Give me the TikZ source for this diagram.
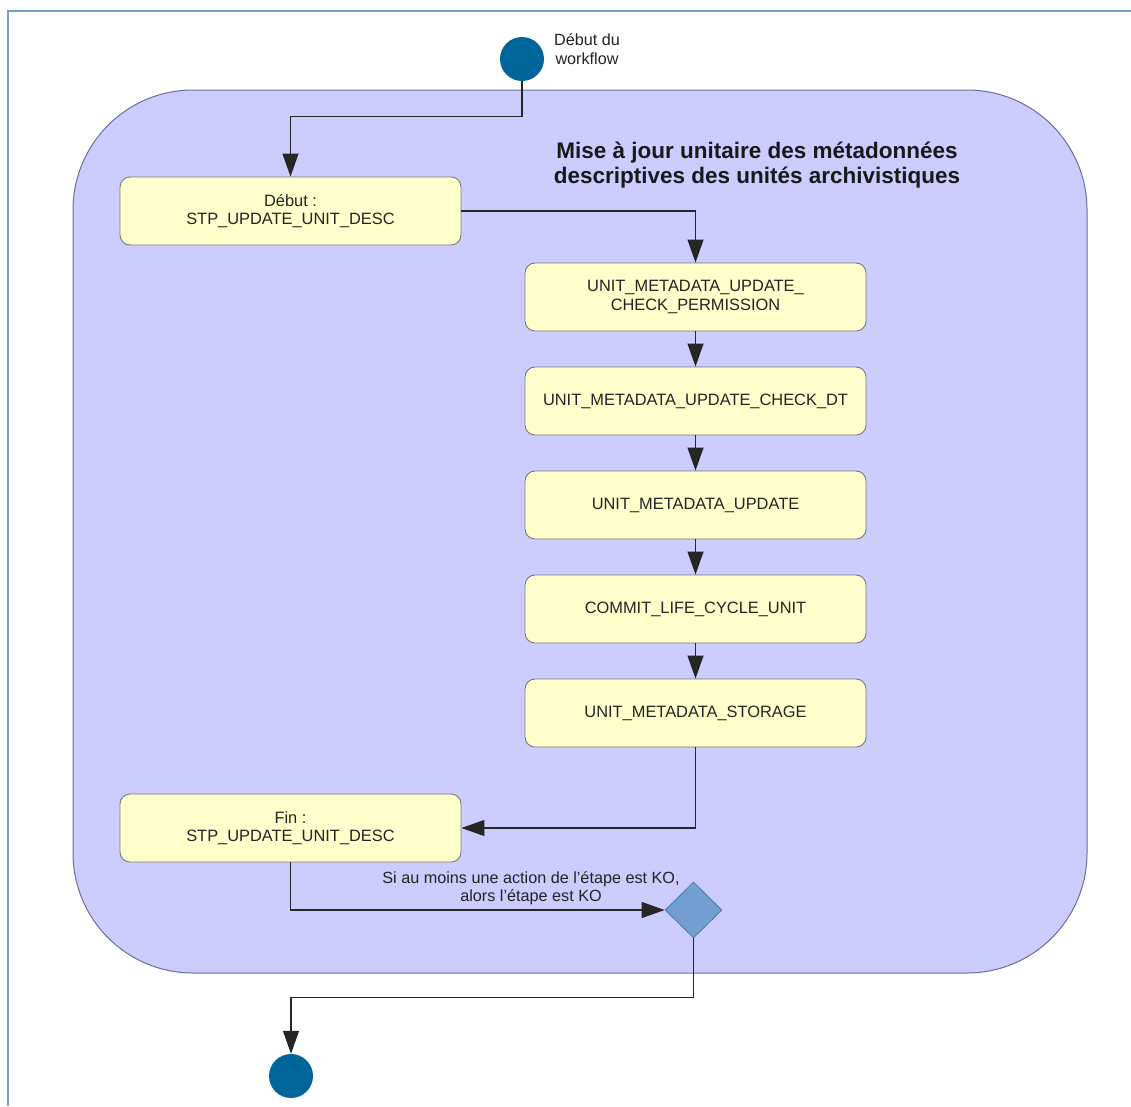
\documentclass[tikz,border=0pt]{standalone}
\usepackage{fontspec}
\setmainfont{Liberation Sans}
\usetikzlibrary{arrows.meta,shapes.geometric}
\definecolor{lanefill}{RGB}{204,204,255}
\definecolor{laneborder}{RGB}{110,110,150}
\definecolor{boxfill}{RGB}{255,255,204}
\definecolor{boxborder}{RGB}{120,120,120}
\definecolor{dotblue}{RGB}{0,102,153}
\definecolor{diafill}{RGB}{114,159,207}
\definecolor{diaborder}{RGB}{80,120,170}
\definecolor{framecol}{RGB}{114,159,207}
\definecolor{txt}{RGB}{35,35,35}
\begin{document}
\begin{tikzpicture}[x=1pt,y=-1pt,
  stepbox/.style={draw=boxborder,fill=boxfill,line width=0.9pt,rounded corners=10pt,
    minimum width=341pt,minimum height=68pt,inner sep=0pt,align=center,
    font=\fontsize{16.4}{18.5}\selectfont,text=txt},
  dot/.style={circle,fill=dotblue,draw=none,minimum size=44pt,inner sep=0pt},
  conn/.style={draw=black!85,line width=1.2pt,-{Triangle[length=23pt,width=16pt]}},
  lbl/.style={align=center,font=\fontsize{16.2}{18.5}\selectfont,text=txt,inner sep=0pt}]
\useasboundingbox (0,0) rectangle (1131,1106);
\fill[white] (0,0) rectangle (1131,1106);
% frame
\draw[framecol,line width=2pt] (8,1106) -- (8,11) -- (1131,11);
% lane
\draw[fill=lanefill,draw=laneborder,line width=1pt,rounded corners=120pt] (73,90) rectangle (1087,973);
\node[font=\fontsize{22.5}{25}\selectfont\bfseries,text=black!90,align=center] (title) at (757,165)
  {Mise à jour unitaire des métadonnées\\descriptives des unités archivistiques};
% nodes
\node[dot] (start) at (522,59) {};
\node[lbl] (startlbl) at (587,49) {Début du\\workflow};
\node[stepbox] (debut) at (290.5,211) {Début :\\STP\_UPDATE\_UNIT\_DESC};
\node[stepbox] (b1) at (695.5,297) {UNIT\_METADATA\_UPDATE\_\\CHECK\_PERMISSION};
\node[stepbox] (b2) at (695.5,401) {UNIT\_METADATA\_UPDATE\_CHECK\_DT};
\node[stepbox] (b3) at (695.5,505) {UNIT\_METADATA\_UPDATE};
\node[stepbox] (b4) at (695.5,609) {COMMIT\_LIFE\_CYCLE\_UNIT};
\node[stepbox] (b5) at (695.5,713) {UNIT\_METADATA\_STORAGE};
\node[stepbox] (fin) at (290.5,828) {Fin :\\STP\_UPDATE\_UNIT\_DESC};
\node[diamond,fill=diafill,draw=diaborder,line width=0.8pt,minimum width=57pt,minimum height=56pt,inner sep=0pt] (dia) at (693.5,910) {};
\node[dot] (end) at (291,1076) {};
\node[lbl] (kolbl) at (531,888) {Si au moins une action de l'étape est KO,\\alors l'étape est KO};
% connectors
\draw[conn] (start.south) -- ++(0,35) -| (debut.north);
\draw[conn] (debut.east) -| (b1.north);
\draw[conn] (b1) -- (b2);
\draw[conn] (b2) -- (b3);
\draw[conn] (b3) -- (b4);
\draw[conn] (b4) -- (b5);
\draw[conn] (b5.south) |- (fin.east);
\draw[conn] (fin.south) |- (dia.west);
\draw[conn] (dia.south) -- ++(0,59) -| (end.north);
\end{tikzpicture}
\end{document}
